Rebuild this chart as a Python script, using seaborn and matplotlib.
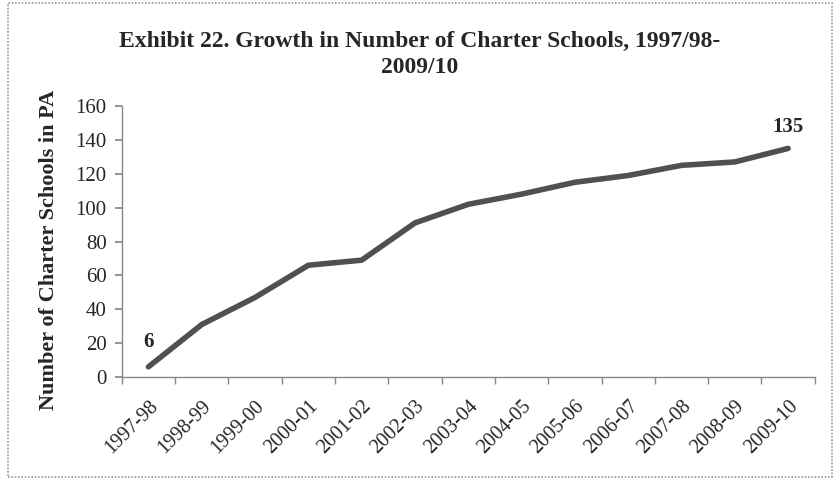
import matplotlib
matplotlib.use("Agg")
import matplotlib.pyplot as plt
import seaborn as sns
import pandas as pd
from matplotlib.patches import Rectangle
from matplotlib.ticker import FixedLocator

years = ["1997-98", "1998-99", "1999-00", "2000-01", "2001-02", "2002-03", "2003-04",
         "2004-05", "2005-06", "2006-07", "2007-08", "2008-09", "2009-10"]
schools = [6, 31, 47, 66, 69, 91, 102, 108, 115, 119, 125, 127, 135]
yticks = [0, 20, 40, 60, 80, 100, 120, 140, 160]

sns.set_theme(style="white")
plt.rcParams['font.family'] = ['Liberation Serif', 'DejaVu Serif']

df = pd.DataFrame({"year": years, "schools": schools})

fig = plt.figure(figsize=(8.4, 4.8), dpi=100)
ax = fig.add_axes([0.145, 0.2146, 0.825, 0.5644])

sns.lineplot(data=df, x="year", y="schools", ax=ax, color="#505050", linewidth=4.0,
             sort=False, solid_capstyle="round")

ax.set_xlim(-0.5, len(years) - 0.5)
ax.set_ylim(0, 160)
ax.set_yticks(yticks)
ax.set_yticklabels([str(v) for v in yticks], fontsize=15)
ax.set_xticks(range(len(years)))
ax.set_xticklabels(years, rotation=45, ha="right", rotation_mode="anchor", fontsize=14.5)
ax.xaxis.set_minor_locator(FixedLocator([i - 0.5 for i in range(len(years) + 1)]))
ax.tick_params(axis="x", which="major", length=0, pad=14)
ax.tick_params(axis="x", which="minor", length=5, color="#888888", direction="out", bottom=True)
ax.tick_params(axis="y", length=5, color="#888888", direction="out", left=True, pad=6)

for s in ["top", "right"]:
    ax.spines[s].set_visible(False)
for s in ["left", "bottom"]:
    ax.spines[s].set_color("#888888")
    ax.spines[s].set_linewidth(1.0)

ax.set_xlabel("")
ax.set_ylabel("Number of Charter Schools in PA", fontsize=16, fontweight="bold")
ax.yaxis.set_label_coords(-0.09, 0.47)

ax.annotate(str(schools[0]), (0, schools[0]), xytext=(0, 11), textcoords="offset points",
            ha="center", va="bottom", fontsize=15, fontweight="bold")
ax.annotate(str(schools[-1]), (len(years) - 1, schools[-1]), xytext=(0, 8), textcoords="offset points",
            ha="center", va="bottom", fontsize=15, fontweight="bold")

fig.text(0.5, 0.936, "Exhibit 22. Growth in Number of Charter Schools, 1997/98-\n2009/10",
         ha="center", va="top", fontsize=17, fontweight="bold", linespacing=1.33)

fig.patches.append(Rectangle((0.009, 0.006), 0.982, 0.988, transform=fig.transFigure,
                             fill=False, edgecolor="#999999", linewidth=1.2, linestyle=(0, (1, 1))))

fig.savefig("out.png", dpi=100)
